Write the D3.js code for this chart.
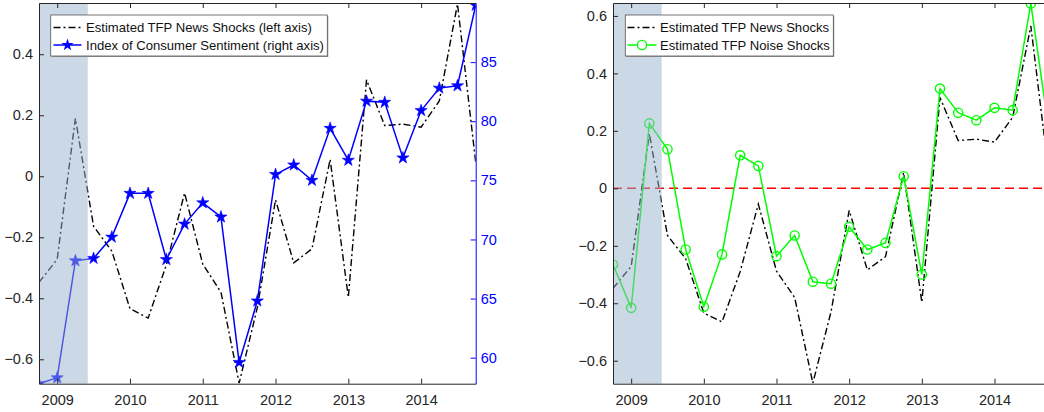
<!DOCTYPE html>
<html>
<head>
<meta charset="utf-8">
<script src="https://cdn.jsdelivr.net/npm/d3@7"></script>
<style>
  html, body { margin: 0; padding: 0; background: #fff; }
  svg { display: block; font-family: "Liberation Sans", Arial, Helvetica, sans-serif; }
</style>
</head>
<body>
<svg id="chart" width="1044" height="412"></svg>
<script>
// ---------------- data ----------------
const dates = [2008.75, 2009.0, 2009.25, 2009.5, 2009.75, 2010.0, 2010.25, 2010.5, 2010.75,
  2011.0, 2011.25, 2011.5, 2011.75, 2012.0, 2012.25, 2012.5, 2012.75,
  2013.0, 2013.25, 2013.5, 2013.75, 2014.0, 2014.25, 2014.5, 2014.75];
const newsShocks = [-0.348, -0.272, 0.19, -0.164, -0.245, -0.434, -0.465, -0.29, -0.055,
  -0.288, -0.38, -0.678, -0.43, -0.077, -0.284, -0.238, 0.055,
  -0.397, 0.316, 0.166, 0.171, 0.161, 0.247, 0.565, 0.045];
const noiseShocks = [-0.265, -0.416, 0.226, 0.136, -0.213, -0.412, -0.23, 0.115, 0.078,
  -0.236, -0.164, -0.325, -0.332, -0.134, -0.213, -0.19, 0.042,
  -0.3, 0.347, 0.263, 0.237, 0.28, 0.272, 0.643, 0.2];
const sentiment = [57.8, 58.3, 68.2, 68.4, 70.2, 73.9, 73.9, 68.3, 71.3,
  73.1, 71.9, 59.6, 64.8, 75.5, 76.3, 75.0, 79.4,
  76.7, 81.7, 81.6, 76.9, 80.9, 82.8, 83.0, 89.8];
const xTicks = [2009, 2010, 2011, 2012, 2013, 2014];
const leftTicksA = [-0.6, -0.4, -0.2, 0, 0.2, 0.4];
const rightTicksA = [60, 65, 70, 75, 80, 85];
const leftTicksB = [-0.6, -0.4, -0.2, 0, 0.2, 0.4, 0.6];
const recession = [2008.75, 2009.42];
const legendA = ["Estimated TFP News Shocks (left axis)", "Index of Consumer Sentiment (right axis)"];
const legendB = ["Estimated TFP News Shocks", "Estimated TFP Noise Shocks"];

// ---------------- styles ----------------
const AX = "#262626", BLUE = "#0000ff", GREEN = "#00ff00", RED = "#ff0000";
const DASHDOT = "7,3,2,3";
const FS = 14.5;
const LFS = 13.1;
const STAR = 46;

const svg = d3.select("#chart");
const defs = svg.append("defs");

function panel(id, L, R, T, B) {
  defs.append("clipPath").attr("id", id).append("rect")
    .attr("x", L).attr("y", T).attr("width", R - L).attr("height", B - T);
  return svg.append("g");
}

function styleAxis(g, color) {
  g.selectAll("path.domain").attr("stroke", color).attr("stroke-width", 1);
  g.selectAll(".tick line").attr("stroke", color).attr("stroke-width", 1);
  g.selectAll(".tick text").attr("fill", color).attr("font-size", FS)
    .attr("font-family", "'Liberation Sans', Arial, sans-serif");
}

const fmt = d => d === 0 ? "0" : d3.format("")(d);

// ================= LEFT PANEL =================
(function () {
  const L = 39, R = 475.7, T = 3, B = 383.7;
  const g = panel("clipA", L, R, T, B);
  const x = d3.scaleLinear().domain([2008.75, 2014.75]).range([L, R]);
  const yL = d3.scaleLinear().domain([-0.68, 0.568]).range([B, T]);
  const yR = d3.scaleLinear().domain([57.8, 90.0]).range([B, T]);
  const plot = g.append("g").attr("clip-path", "url(#clipA)");

  plot.append("path").datum(dates.map((d, i) => [d, newsShocks[i]]))
    .attr("d", d3.line().x(d => x(d[0])).y(d => yL(d[1])))
    .attr("fill", "none").attr("stroke", "#000").attr("stroke-width", 1.4)
    .attr("stroke-dasharray", DASHDOT);
  plot.append("path").datum(dates.map((d, i) => [d, sentiment[i]]))
    .attr("d", d3.line().x(d => x(d[0])).y(d => yR(d[1])))
    .attr("fill", "none").attr("stroke", BLUE).attr("stroke-width", 1.5);
  plot.selectAll("path.star").data(dates.map((d, i) => [d, sentiment[i]])).enter()
    .append("path").attr("class", "star")
    .attr("d", d3.symbol(d3.symbolStar, STAR))
    .attr("transform", d => `translate(${x(d[0])},${yR(d[1])})`)
    .attr("fill", BLUE).attr("stroke", BLUE).attr("stroke-width", 0.6);
  plot.append("rect").attr("x", x(recession[0])).attr("y", T)
    .attr("width", x(recession[1]) - x(recession[0])).attr("height", B - T)
    .attr("fill", "rgb(151,177,203)").attr("fill-opacity", 0.5);

  const ax = g.append("g").attr("transform", `translate(0,${B})`)
    .call(d3.axisBottom(x).tickValues(xTicks).tickFormat(d3.format("d")).tickSize(-5).tickSizeOuter(0).tickPadding(11));
  styleAxis(ax, AX);
  const axTop = g.append("g").attr("transform", `translate(0,${T})`)
    .call(d3.axisTop(x).tickValues(xTicks).tickFormat("").tickSize(-5).tickSizeOuter(0));
  styleAxis(axTop, AX);
  const ayL = g.append("g").attr("transform", `translate(${L},0)`)
    .call(d3.axisLeft(yL).tickValues(leftTicksA).tickFormat(fmt).tickSize(-5).tickSizeOuter(0).tickPadding(6));
  styleAxis(ayL, AX);
  const ayR = g.append("g").attr("transform", `translate(${R},0)`)
    .call(d3.axisRight(yR).tickValues(rightTicksA).tickSize(-5).tickSizeOuter(0).tickPadding(5));
  styleAxis(ayR, BLUE);

  const lg = g.append("g");
  const bx = 50.7, by = 15, bw = 276.6, bh = 41;
  lg.append("rect").attr("x", bx + 1).attr("y", by + 1).attr("width", bw).attr("height", bh)
    .attr("fill", "#9a9a9a");
  lg.append("rect").attr("x", bx).attr("y", by).attr("width", bw).attr("height", bh)
    .attr("fill", "#fff").attr("stroke", "#555").attr("stroke-width", 0.8);
  const rows = [by + 12.5, by + 30];
  lg.append("line").attr("x1", 53.5).attr("x2", 81.5).attr("y1", rows[0]).attr("y2", rows[0])
    .attr("stroke", "#000").attr("stroke-width", 1.4).attr("stroke-dasharray", DASHDOT);
  lg.append("line").attr("x1", 53.5).attr("x2", 81.5).attr("y1", rows[1]).attr("y2", rows[1])
    .attr("stroke", BLUE).attr("stroke-width", 1.5);
  lg.append("path").attr("d", d3.symbol(d3.symbolStar, STAR))
    .attr("transform", `translate(67.5,${rows[1]})`).attr("fill", BLUE);
  legendA.forEach((t, i) => {
    lg.append("text").attr("x", 86).attr("y", rows[i]).attr("dy", "0.36em")
      .attr("font-size", LFS).attr("fill", "#111").text(t);
  });
})();

// ================= RIGHT PANEL =================
(function () {
  const L = 613, R = 1049, T = 3, B = 383.7;
  const g = panel("clipB", L, R, T, B);
  const x = d3.scaleLinear().domain([2008.75, 2014.75]).range([L, R]);
  const y = d3.scaleLinear().domain([-0.68, 0.645]).range([B, T]);
  const plot = g.append("g").attr("clip-path", "url(#clipB)");

  plot.append("line").attr("x1", L).attr("x2", R).attr("y1", y(0)).attr("y2", y(0))
    .attr("stroke", RED).attr("stroke-width", 1.6).attr("stroke-dasharray", "9,5");
  plot.append("path").datum(dates.map((d, i) => [d, newsShocks[i]]))
    .attr("d", d3.line().x(d => x(d[0])).y(d => y(d[1])))
    .attr("fill", "none").attr("stroke", "#000").attr("stroke-width", 1.4)
    .attr("stroke-dasharray", DASHDOT);
  plot.append("path").datum(dates.map((d, i) => [d, noiseShocks[i]]))
    .attr("d", d3.line().x(d => x(d[0])).y(d => y(d[1])))
    .attr("fill", "none").attr("stroke", GREEN).attr("stroke-width", 1.5);
  plot.selectAll("circle.m").data(dates.map((d, i) => [d, noiseShocks[i]])).enter()
    .append("circle").attr("class", "m")
    .attr("cx", d => x(d[0])).attr("cy", d => y(d[1])).attr("r", 4.6)
    .attr("fill", "none").attr("stroke", GREEN).attr("stroke-width", 1.4);
  plot.append("rect").attr("x", x(recession[0])).attr("y", T)
    .attr("width", x(recession[1]) - x(recession[0])).attr("height", B - T)
    .attr("fill", "rgb(151,177,203)").attr("fill-opacity", 0.5);

  const ax = g.append("g").attr("transform", `translate(0,${B})`)
    .call(d3.axisBottom(x).tickValues(xTicks).tickFormat(d3.format("d")).tickSize(-5).tickSizeOuter(0).tickPadding(11));
  styleAxis(ax, AX);
  const axTop = g.append("g").attr("transform", `translate(0,${T})`)
    .call(d3.axisTop(x).tickValues(xTicks).tickFormat("").tickSize(-5).tickSizeOuter(0));
  styleAxis(axTop, AX);
  const ay = g.append("g").attr("transform", `translate(${L},0)`)
    .call(d3.axisLeft(y).tickValues(leftTicksB).tickFormat(fmt).tickSize(-5).tickSizeOuter(0).tickPadding(6));
  styleAxis(ay, AX);
  const ayR = g.append("g").attr("transform", `translate(${R},0)`)
    .call(d3.axisRight(y).tickValues(leftTicksB).tickFormat("").tickSize(-5).tickSizeOuter(0));
  styleAxis(ayR, AX);

  const lg = g.append("g");
  const bx = 625.3, by = 15, bw = 208, bh = 41;
  lg.append("rect").attr("x", bx + 1).attr("y", by + 1).attr("width", bw).attr("height", bh)
    .attr("fill", "#9a9a9a");
  lg.append("rect").attr("x", bx).attr("y", by).attr("width", bw).attr("height", bh)
    .attr("fill", "#fff").attr("stroke", "#555").attr("stroke-width", 0.8);
  const rows = [by + 12.5, by + 30];
  lg.append("line").attr("x1", 627.5).attr("x2", 656.5).attr("y1", rows[0]).attr("y2", rows[0])
    .attr("stroke", "#000").attr("stroke-width", 1.4).attr("stroke-dasharray", DASHDOT);
  lg.append("line").attr("x1", 627.5).attr("x2", 656.5).attr("y1", rows[1]).attr("y2", rows[1])
    .attr("stroke", GREEN).attr("stroke-width", 1.5);
  lg.append("circle").attr("cx", 642).attr("cy", rows[1]).attr("r", 4.6)
    .attr("fill", "#fff").attr("stroke", GREEN).attr("stroke-width", 1.4);
  legendB.forEach((t, i) => {
    lg.append("text").attr("x", 660).attr("y", rows[i]).attr("dy", "0.36em")
      .attr("font-size", LFS).attr("fill", "#111").text(t);
  });
})();
</script>
</body>
</html>
